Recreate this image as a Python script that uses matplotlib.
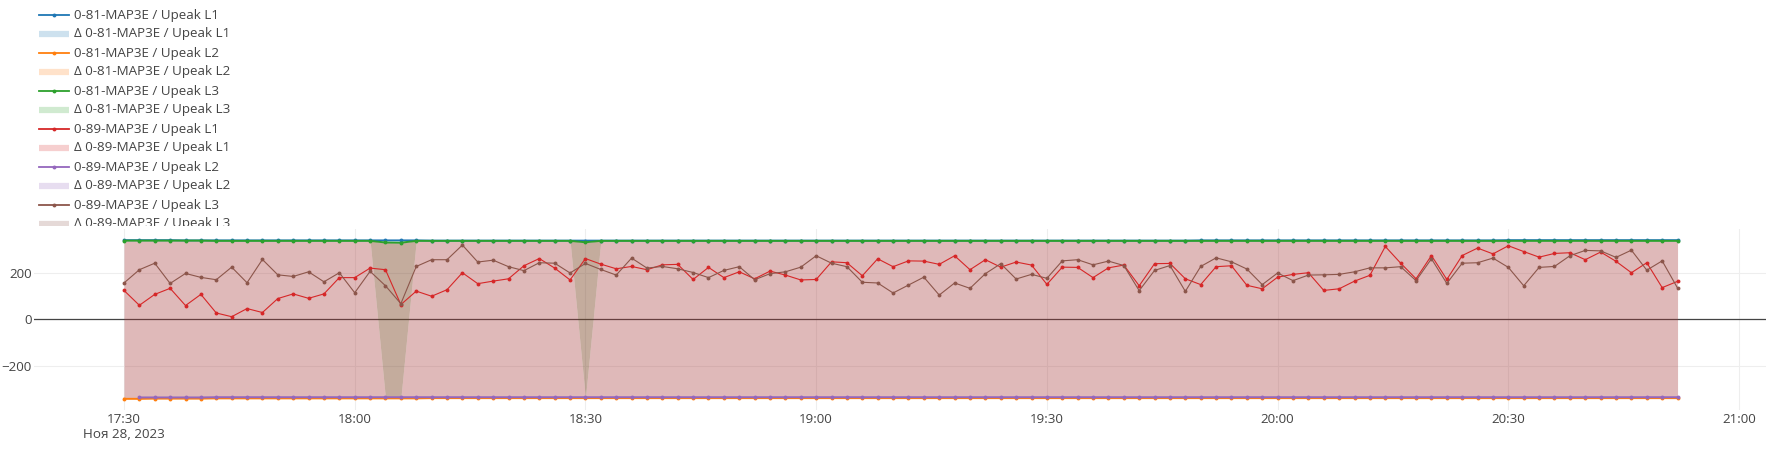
import numpy as np
import pandas as pd
import matplotlib
matplotlib.use('Agg')
import matplotlib.pyplot as plt

plt.rcParams['font.family'] = ['Open Sans', 'DejaVu Sans']

# 2-minute samples, 17:30 .. 20:52
times = pd.date_range('2023-11-28 17:30', periods=102, freq='2min')

# 0-81-MAP3E, Upeak L1 / L2 / L3
u81_l1 = [340, 340, 340, 340, 339, 339, 339, 339, 339, 339,
          339, 339, 339, 339, 339, 339, 339, 339, 339, 339,
          338, 338, 338, 338, 338, 338, 338, 338, 338, 338,
          338, 338, 338, 338, 338, 338, 338, 338, 338, 338,
          338, 338, 338, 338, 338, 338, 338, 338, 338, 338,
          338, 338, 338, 338, 338, 338, 338, 338, 338, 338,
          338, 338, 338, 338, 338, 338, 338, 338, 338, 338,
          339, 339, 339, 339, 339, 339, 339, 339, 339, 339,
          339, 339, 339, 339, 339, 339, 339, 339, 339, 339,
          340, 340, 340, 340, 340, 340, 340, 340, 340, 340,
          340, 340]
u81_l2 = [-342, -342, -341, -341, -341, -341, -340, -340, -340, -340,
          -340, -340, -340, -340, -340, -340, -340, -340, -340, -340,
          -339, -339, -339, -339, -339, -339, -339, -339, -339, -339,
          -339, -339, -339, -339, -339, -339, -339, -339, -339, -339,
          -339, -339, -339, -339, -339, -339, -339, -339, -339, -339,
          -339, -339, -339, -339, -339, -339, -339, -339, -339, -339,
          -339, -339, -339, -339, -339, -339, -339, -339, -339, -339,
          -339, -339, -339, -339, -339, -339, -339, -339, -339, -339,
          -339, -339, -339, -339, -339, -339, -339, -339, -339, -339,
          -339, -339, -339, -339, -339, -339, -339, -339, -339, -339,
          -339, -339]
u81_l3 = [338, 338, 338, 338, 338, 338, 337, 337, 337, 337,
          337, 337, 337, 337, 337, 337, 337, 330, 329, 337,
          337, 337, 337, 337, 337, 337, 337, 337, 337, 337,
          331, 337, 337, 337, 337, 337, 337, 337, 337, 337,
          337, 337, 337, 337, 337, 337, 337, 337, 337, 337,
          337, 337, 337, 337, 337, 337, 337, 337, 337, 337,
          337, 337, 337, 337, 337, 337, 337, 337, 337, 337,
          337, 337, 337, 337, 337, 337, 337, 337, 337, 337,
          337, 337, 337, 337, 337, 337, 337, 337, 337, 337,
          337, 337, 337, 337, 337, 337, 337, 337, 337, 337,
          337, 337]

# 0-89-MAP3E, Upeak L1 / L2 / L3
u89_l1 = [124, 60, 107, 133, 59, 107, 27, 11, 46, 29,
          89, 109, 90, 109, 179, 179, 220, 213, 63, 121,
          99, 127, 200, 153, 164, 174, 230, 261, 220, 169,
          261, 237, 217, 227, 213, 234, 236, 171, 223, 179,
          204, 174, 207, 190, 169, 171, 247, 243, 187, 260,
          226, 251, 250, 236, 273, 213, 256, 224, 246, 233,
          150, 224, 223, 179, 221, 233, 144, 239, 240, 174,
          149, 226, 230, 146, 131, 181, 193, 200, 124, 131,
          164, 189, 313, 241, 174, 274, 171, 274, 306, 281,
          316, 291, 267, 283, 286, 256, 289, 249, 200, 243,
          136, 163]
u89_l2 = [np.nan, -336, -336, -336, -336, -336, -335, -335, -335, -335,
          -335, -335, -335, -335, -335, -335, -335, -335, -335, -335,
          -335, -335, -335, -335, -335, -335, -335, -335, -335, -335,
          -335, -335, -335, -335, -335, -335, -335, -335, -335, -335,
          -335, -335, -335, -335, -335, -335, -335, -335, -335, -335,
          -335, -335, -335, -335, -335, -335, -335, -335, -335, -335,
          -335, -335, -335, -335, -335, -335, -335, -335, -335, -335,
          -335, -335, -335, -335, -335, -335, -335, -335, -335, -335,
          -335, -335, -335, -335, -335, -335, -335, -335, -335, -335,
          -335, -335, -335, -335, -335, -335, -335, -335, -335, -335,
          -335, -335]
u89_l3 = [156, 213, 241, 154, 197, 180, 170, 224, 157, 257,
          191, 184, 204, 161, 200, 114, 206, 144, 67, 227,
          256, 256, 319, 246, 254, 226, 209, 243, 241, 199,
          240, 214, 190, 263, 220, 227, 217, 201, 179, 210,
          226, 170, 196, 204, 224, 273, 241, 226, 159, 156,
          113, 147, 181, 104, 156, 133, 196, 239, 173, 193,
          176, 251, 256, 234, 250, 231, 123, 210, 231, 120,
          227, 264, 247, 216, 149, 199, 166, 190, 191, 193,
          204, 221, 221, 226, 166, 260, 154, 241, 243, 263,
          223, 144, 223, 227, 273, 296, 294, 266, 297, 211,
          251, 134]

# samples where the L1 band of 0-89 collapses to the lower bound
gap_times = ['18:04', '18:06', '18:30']

names = ['0-81-MAP3E / Upeak L1', '0-81-MAP3E / Upeak L2', '0-81-MAP3E / Upeak L3',
         '0-89-MAP3E / Upeak L1', '0-89-MAP3E / Upeak L2', '0-89-MAP3E / Upeak L3']
colors = ['#1f77b4', '#ff7f0e', '#2ca02c', '#d62728', '#9467bd', '#8c564b']

tick_times = pd.date_range('2023-11-28 17:30', '2023-11-28 21:00', freq='30min')
tick_labels = ['17:30\nНоя 28, 2023', '18:00', '18:30', '19:00', '19:30',
               '20:00', '20:30', '21:00']
y_ticks = [-200, 0, 200]
y_labels = ['\u2212200', '0', '200']

# ---------------------------------------------------------------
W, H = 1766, 450
FS = 9.6
fig = plt.figure(figsize=(W / 100, H / 100), dpi=100)
ax = fig.add_axes([34 / W, 40 / H, 1 - 34 / W, 181 / H])

top = np.array(u81_l3, dtype=float)
bottom = np.array(u81_l2, dtype=float)
in_gap = times.strftime('%H:%M').isin(gap_times)
band_top = np.where(in_gap, bottom, top)

# delta bands
ax.fill_between(times, bottom, band_top, color='#a63737', alpha=0.35, lw=0, zorder=1)
ax.fill_between(times, band_top, top, color='#7c4727', alpha=0.45, lw=0, zorder=1)

series = [u81_l1, u81_l2, u81_l3, u89_l1, u89_l2, u89_l3]
widths = [1.4, 1.4, 1.4, 0.8, 1.4, 0.8]
for vals, c, lw in zip(series, colors, widths):
    ax.plot(times, vals, color=c, lw=lw, marker='o', ms=2.8, mew=0, zorder=3)

ax.axhline(0, color='#444444', lw=0.9, zorder=0.8)

ax.set_xlim(times[0] - pd.Timedelta(minutes=11.7), tick_times[-1] + pd.Timedelta(minutes=3.5))
ax.set_ylim(-390, 388)
ax.set_xticks(tick_times)
ax.set_xticklabels(tick_labels)
ax.set_yticks(y_ticks)
ax.set_yticklabels(y_labels)
ax.tick_params(length=0, labelsize=FS, colors='#444444')
ax.tick_params(axis='x', pad=2.5)
ax.tick_params(axis='y', pad=1.5)
ax.set_axisbelow(True)
ax.grid(True, color='#eeeeee', lw=0.8)
for s in ax.spines.values():
    s.set_visible(False)

# legend (top left, clipped by the plot area)
lax = fig.add_axes([0, (H - 226) / H, 560 / W, 226 / H])
lax.set_xlim(0, 560)
lax.set_ylim(226, 0)
lax.axis('off')
row = 0
for name, c in zip(names, colors):
    y = 15 + 19 * row
    lax.plot([39, 69], [y, y], color=c, lw=1.3, clip_on=True)
    lax.plot([54], [y], marker='o', ms=2.8, mew=0, color=c, clip_on=True)
    lax.text(74, y, name, va='center', ha='left', fontsize=FS, color='#444444', clip_on=True)
    y = 15 + 19 * (row + 1)
    lax.plot([39, 69], [y, y], color=c, lw=4.5, alpha=0.22, solid_capstyle='butt', clip_on=True)
    lax.text(74, y, '\u0394 ' + name, va='center', ha='left', fontsize=FS, color='#444444', clip_on=True)
    row += 2

fig.savefig('out.png', dpi=100)
